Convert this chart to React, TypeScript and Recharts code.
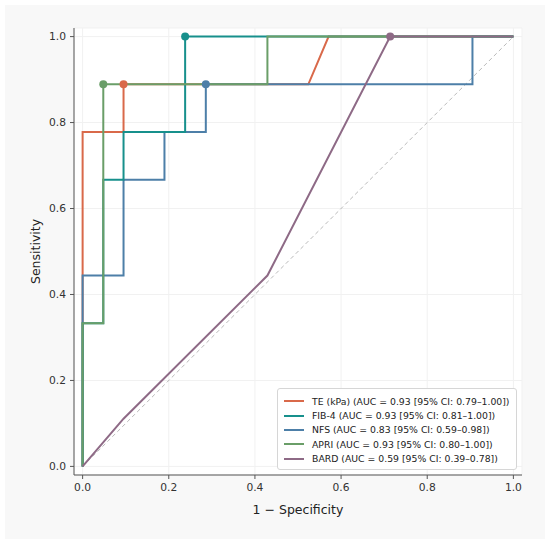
import React from "react";
import {
  CartesianGrid,
  ComposedChart,
  Label,
  Legend,
  Line,
  XAxis,
  YAxis,
} from "recharts";

// ROC points (x = 1 - specificity, y = sensitivity)
const TE_FPR = [0, 0, 0.095, 0.095, 0.524, 0.571, 1];
const TE_TPR = [0, 0.778, 0.778, 0.889, 0.889, 1, 1];
const FIB4_FPR = [0, 0, 0.048, 0.048, 0.095, 0.095, 0.238, 0.238, 1];
const FIB4_TPR = [0, 0.333, 0.333, 0.667, 0.667, 0.778, 0.778, 1, 1];
const NFS_FPR = [0, 0, 0.095, 0.095, 0.19, 0.19, 0.286, 0.286, 0.905, 0.905, 1];
const NFS_TPR = [0, 0.444, 0.444, 0.667, 0.667, 0.778, 0.778, 0.889, 0.889, 1, 1];
const APRI_FPR = [0, 0, 0.048, 0.048, 0.429, 0.429, 1];
const APRI_TPR = [0, 0.333, 0.333, 0.889, 0.889, 1, 1];
const BARD_FPR = [0, 0.095, 0.429, 0.714, 1];
const BARD_TPR = [0, 0.111, 0.444, 1, 1];

const CHANCE_FPR = [0, 1];
const CHANCE_TPR = [0, 1];

const TICKS = [0, 0.2, 0.4, 0.6, 0.8, 1.0];

type Series = {
  name: string;
  label: string;
  color: string;
  fpr: number[];
  tpr: number[];
  cutoff: number; // index of the marked optimal threshold
};

// legend order
const SERIES: Series[] = [
  { name: "TE", label: "TE (kPa) (AUC = 0.93 [95% CI: 0.79–1.00])", color: "#d9694a", fpr: TE_FPR, tpr: TE_TPR, cutoff: 3 },
  { name: "FIB-4", label: "FIB-4 (AUC = 0.93 [95% CI: 0.81–1.00])", color: "#17908c", fpr: FIB4_FPR, tpr: FIB4_TPR, cutoff: 7 },
  { name: "NFS", label: "NFS (AUC = 0.83 [95% CI: 0.59–0.98])", color: "#4d7fa8", fpr: NFS_FPR, tpr: NFS_TPR, cutoff: 7 },
  { name: "APRI", label: "APRI (AUC = 0.93 [95% CI: 0.80–1.00])", color: "#6a9e68", fpr: APRI_FPR, tpr: APRI_TPR, cutoff: 3 },
  { name: "BARD", label: "BARD (AUC = 0.59 [95% CI: 0.39–0.78])", color: "#8e6a86", fpr: BARD_FPR, tpr: BARD_TPR, cutoff: 3 },
];

// drawing order (later on top)
const DRAW_ORDER = ["TE", "NFS", "FIB-4", "APRI", "BARD"];

const toPoints = (xs: number[], ys: number[]) => xs.map((x, i) => ({ x, y: ys[i] }));

const FONT = "'DejaVu Sans', sans-serif";

function LegendBox() {
  return (
    <div
      style={{
        background: "#fff",
        border: "1px solid #d6d6d6",
        borderRadius: 3,
        width: 240,
        height: 82,
        padding: "5px 0 0 0",
        boxSizing: "border-box",
        fontFamily: FONT,
      }}
    >
      {SERIES.map((s) => (
        <div key={s.name} style={{ display: "flex", alignItems: "center", height: 14.4 }}>
          <div style={{ width: 20, height: 2, background: s.color, marginLeft: 6, marginRight: 8 }} />
          <span style={{ fontSize: 9.3, color: "#222", whiteSpace: "nowrap" }}>{s.label}</span>
        </div>
      ))}
    </div>
  );
}

export default function App() {
  return (
    <div style={{ position: "absolute", left: 0, top: 0, width: 550, height: 544, background: "#fff" }}>
      <div style={{ position: "absolute", left: 5, top: 5, width: 540, height: 534, background: "#f8f8f8", fontFamily: FONT }}>
        <ComposedChart width={540} height={534} margin={{ top: 23, right: 23, left: 0, bottom: 0 }}>
          <CartesianGrid stroke="#f1f1f1" fill="#fff" />
          <XAxis
            type="number"
            dataKey="x"
            domain={[-0.02, 1.02]}
            ticks={TICKS}
            tickFormatter={(v: number) => v.toFixed(1)}
            height={64}
            tickSize={4}
            tickMargin={4}
            stroke="#555"
            tick={{ fontSize: 10.7, fill: "#333" }}
            allowDataOverflow
          >
            <Label
              content={(p: any) => {
                const vb = p.viewBox;
                return (
                  <text x={vb.x + vb.width / 2} y={vb.y + 34} textAnchor="middle" dominantBaseline="central" fontSize={12.5} fill="#222">
                    1 − Specificity
                  </text>
                );
              }}
            />
          </XAxis>
          <YAxis
            type="number"
            dataKey="y"
            domain={[-0.02, 1.02]}
            ticks={TICKS}
            tickFormatter={(v: number) => v.toFixed(1)}
            width={69}
            tickSize={4}
            tickMargin={4}
            stroke="#555"
            tick={{ fontSize: 10.7, fill: "#333" }}
            allowDataOverflow
          >
            <Label
              content={(p: any) => {
                const vb = p.viewBox;
                const cx = vb.x + 30;
                const cy = vb.y + vb.height / 2;
                return (
                  <text x={cx} y={cy} textAnchor="middle" dominantBaseline="central" fontSize={12.5} fill="#222" transform={`rotate(-90, ${cx}, ${cy})`}>
                    Sensitivity
                  </text>
                );
              }}
            />
          </YAxis>
          <Line
            data={toPoints(CHANCE_FPR, CHANCE_TPR)}
            dataKey="y"
            type="linear"
            stroke="#a8a8a8"
            strokeWidth={0.8}
            strokeDasharray="4 3"
            dot={false}
            activeDot={false}
            isAnimationActive={false}
            legendType="none"
          />
          {DRAW_ORDER.map((n) => {
            const s = SERIES.find((q) => q.name === n)!;
            return (
              <Line
                key={s.name}
                name={s.name}
                data={toPoints(s.fpr, s.tpr)}
                dataKey="y"
                type="linear"
                stroke={s.color}
                strokeWidth={2}
                activeDot={false}
                isAnimationActive={false}
                dot={(p: any) =>
                  p.index === s.cutoff ? (
                    <circle key={`${s.name}-dot`} cx={p.cx} cy={p.cy} r={4} fill={s.color} stroke="none" />
                  ) : (
                    <g key={`${s.name}-${p.index}`} />
                  )
                }
              />
            );
          })}
          <Legend
            layout="horizontal"
            verticalAlign="middle"
            align="center"
            content={() => <LegendBox />}
            wrapperStyle={{ position: "absolute", left: 272, top: 383, width: "auto" }}
          />
        </ComposedChart>
      </div>
    </div>
  );
}
